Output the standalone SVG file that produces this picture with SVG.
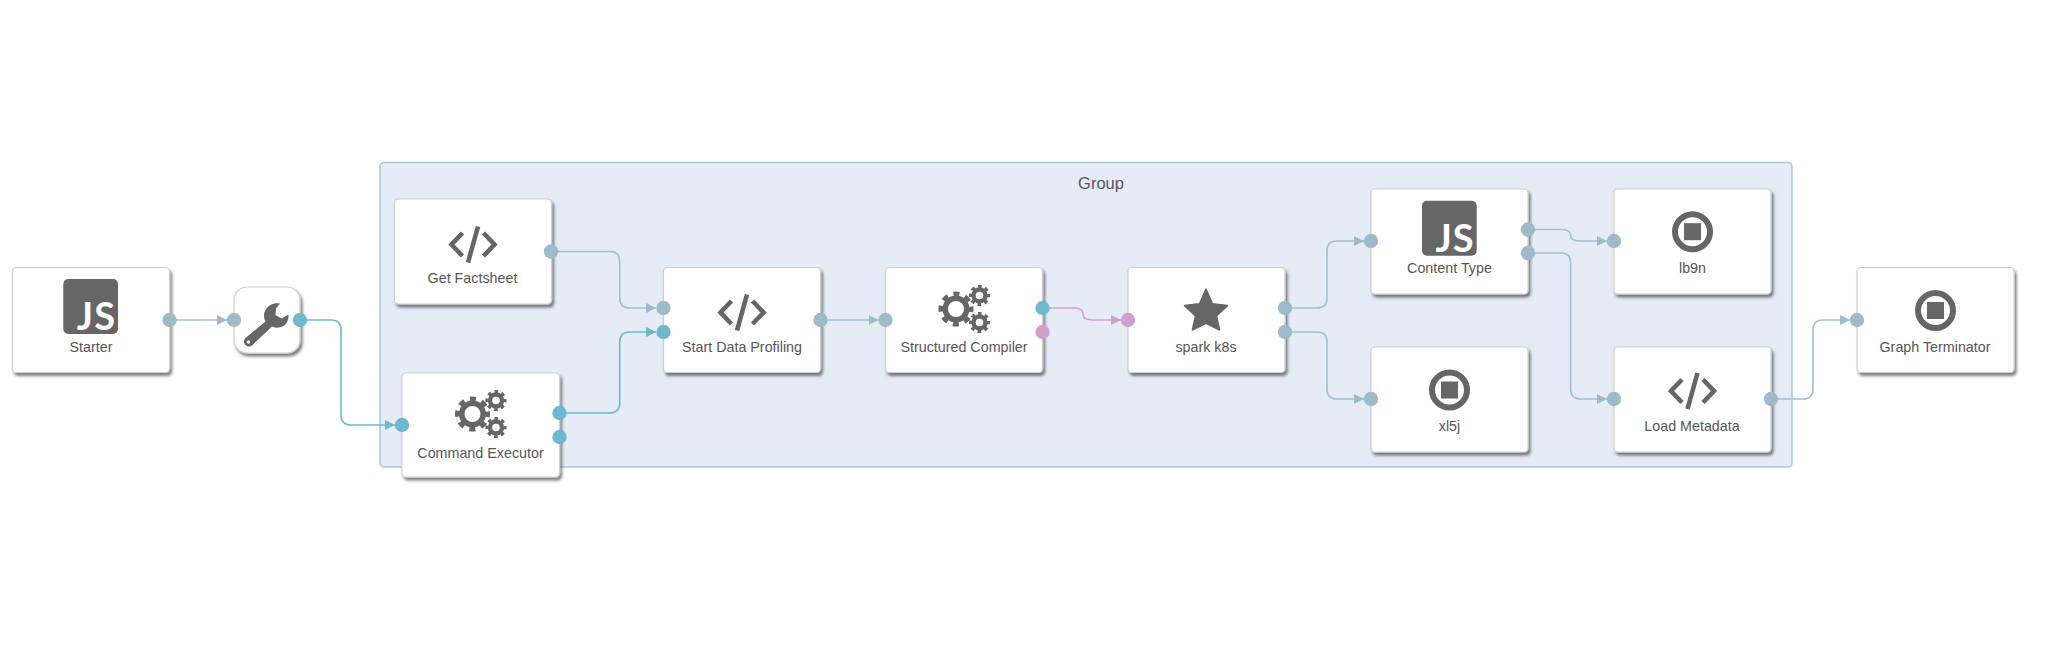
<svg xmlns="http://www.w3.org/2000/svg" width="2046" height="656" viewBox="0 0 2046 656">
<style>
text{font-family:"Liberation Sans",Arial,sans-serif;fill:#565656;text-anchor:middle;font-size:14.3px}
.group-bg{fill:#e6ecf5;stroke:#a9c8dc;stroke-width:1.5}
.box{fill:#fff;stroke:#cfcfcf;stroke-width:1.2;filter:url(#sh)}
.e{fill:none;stroke-width:1.6}
.g{stroke:#a3c0cd;marker-end:url(#ag)}
.t{stroke:#6db9cf;marker-end:url(#at)}
.p{stroke:#d3a2cc;marker-end:url(#ap)}
.pg{fill:#9dbbc8}.pt{fill:#6db9cf}.pp{fill:#d19fca}
circle.pg,circle.pt,circle.pp{r:7.2px}
.code{fill:none;stroke:#666;stroke-width:4.6}
.js{font-family:Lato,"Liberation Sans",sans-serif;font-weight:700;font-size:38px;letter-spacing:1px;fill:#fff;text-anchor:end}
</style>
<defs>
<filter id="sh" x="-10%" y="-10%" width="125%" height="125%"><feDropShadow dx="2" dy="3" stdDeviation="1.8" flood-color="#000" flood-opacity=".5"/></filter>
<marker id="ag" markerUnits="userSpaceOnUse" markerWidth="10" markerHeight="10" refX="10" refY="5" orient="auto"><path d="M0 0L10 5L0 10Z" fill="#9dbbc8"/></marker>
<marker id="at" markerUnits="userSpaceOnUse" markerWidth="10" markerHeight="10" refX="10" refY="5" orient="auto"><path d="M0 0L10 5L0 10Z" fill="#6db9cf"/></marker>
<marker id="ap" markerUnits="userSpaceOnUse" markerWidth="10" markerHeight="10" refX="10" refY="5" orient="auto"><path d="M0 0L10 5L0 10Z" fill="#d19fca"/></marker>
<g id="i-code"><path class="code" d="M-10.500 -11.500L-21.500 0L-10.500 11.500M10.500 -11.500L21.500 0L10.500 11.500M5 -18L-5 18"/></g>
<g id="i-gear"><circle r="10.750" fill="none" stroke="#666" stroke-width="5.500"/><circle r="15" fill="none" stroke="#666" stroke-width="5" stroke-dasharray="6 5.780" stroke-dashoffset="3"/></g>
<g id="i-sgear"><circle r="6" fill="none" stroke="#666" stroke-width="4.400"/><circle r="9" fill="none" stroke="#666" stroke-width="3.200" stroke-dasharray="3.600 3.470" stroke-dashoffset="1.800"/></g>
<g id="i-gears"><use href="#i-gear" x="-8" y="0"/><use href="#i-sgear" x="15.500" y="-13.500"/><use href="#i-sgear" x="15.500" y="13.500"/></g>
<g id="i-stop"><circle r="17.500" fill="none" stroke="#666" stroke-width="6"/><rect x="-8.500" y="-8.500" width="17" height="17" fill="#666"/></g>
</defs>
<g id="group-box"><rect class="group-bg" x="380" y="162.500" width="1412" height="304.500" rx="4"/><text x="1101" y="189" style="font-size:16.500px">Group</text></g>
<g id="connectors">
<path class="e g" d="M170 320H227"/>
<path class="e t" d="M300 320H331Q341 320 341 330V415Q341 425 351 425H395"/>
<path class="e g" d="M551 251.500H609.700Q619.700 251.500 619.700 261.500V298Q619.700 308 629.700 308H656"/>
<path class="e t" d="M559.500 413H609.700Q619.700 413 619.700 403V342Q619.700 332 629.700 332H656"/>
<path class="e g" d="M820.500 320H878.500"/>
<path class="e p" d="M1042.600 308H1074Q1083 308 1083 314Q1083 320 1092 320H1121"/>
<path class="e g" d="M1285 308H1317Q1327 308 1327 298V251Q1327 241 1337 241H1364"/>
<path class="e g" d="M1285 332H1317Q1327 332 1327 342V389Q1327 399 1337 399H1364"/>
<path class="e g" d="M1528 229.500H1561Q1570.600 229.500 1570.600 235.200Q1570.600 241 1580 241H1607"/>
<path class="e g" d="M1528 253H1560.600Q1570.600 253 1570.600 263V389Q1570.600 399 1580.600 399H1607"/>
<path class="e g" d="M1771 399H1803Q1813 399 1813 389V330Q1813 320 1823 320H1850"/>
</g>
<g id="node-starter"><rect class="box" x="12.500" y="267.500" width="157" height="105" rx="4"/>
<rect x="63.300" y="279" width="54.700" height="55" rx="5" fill="#666"/><text class="js" x="116" y="330">JS</text>
<text x="91" y="351.500">Starter</text><circle class="pg" cx="169.500" cy="320" r="7"/></g>
<g id="node-wrench"><rect class="box" x="234" y="287" width="66" height="66" rx="13"/>
<path fill="#666" d="M280 303.500C272 302 264.500 307 264 315.500C264 318 264.500 320 265.500 321.500L245.500 338C243.500 340 243.500 343 245.500 345C247.500 347 250.500 347 252.500 345L272 326.500C274 327.500 276 328 278 327.500C285 327 289 322 288.500 314.500L281.500 318.500L275.500 315L276 308.500Z"/><circle cx="248.500" cy="342" r="1.800" fill="#fff"/>
<circle class="pg" cx="234" cy="320" r="7"/><circle class="pt" cx="300" cy="320" r="7"/></g>
<g id="node-get-factsheet"><rect class="box" x="394.500" y="199" width="157" height="105" rx="4"/><use href="#i-code" x="473" y="244.500"/>
<text x="472.500" y="283">Get Factsheet</text><circle class="pg" cx="551" cy="251.500" r="7"/></g>
<g id="node-command-executor"><rect class="box" x="402" y="373" width="157.500" height="104" rx="4"/><use href="#i-gears" x="480.500" y="414"/>
<text x="480.500" y="457.500">Command Executor</text><circle class="pt" cx="402" cy="425" r="7"/><circle class="pt" cx="559.500" cy="413" r="7"/><circle class="pt" cx="559.500" cy="437" r="7"/></g>
<g id="node-start-data-profiling"><rect class="box" x="663.500" y="267.500" width="157" height="105" rx="4"/><use href="#i-code" x="742" y="312.500"/>
<text x="742" y="351.500">Start Data Profiling</text><circle class="pg" cx="663.500" cy="308" r="7"/><circle class="pt" cx="663.500" cy="332" r="7"/><circle class="pg" cx="820.500" cy="320" r="7"/></g>
<g id="node-structured-compiler"><rect class="box" x="885.500" y="267.500" width="157" height="105" rx="4"/><use href="#i-gears" x="964" y="309"/>
<text x="964" y="351.500">Structured Compiler</text><circle class="pg" cx="885.500" cy="320" r="7"/><circle class="pt" cx="1042.500" cy="308" r="7"/><circle class="pp" cx="1042.500" cy="332" r="7"/></g>
<g id="node-spark-k8s"><rect class="box" x="1128" y="267.500" width="157" height="105" rx="4"/>
<path fill="#666" stroke="#666" stroke-width="1.500" stroke-linejoin="round" d="M1206 289L1212.500 303.800L1227.500 305.600L1216.500 316L1219.600 330L1206 323.300L1192.400 330L1195.500 316L1184.500 305.600L1199.500 303.800Z"/>
<text x="1206" y="351.500">spark k8s</text><circle class="pp" cx="1128" cy="320" r="7"/><circle class="pg" cx="1285" cy="308" r="7"/><circle class="pg" cx="1285" cy="332" r="7"/></g>
<g id="node-content-type"><rect class="box" x="1371" y="189" width="157" height="105" rx="4"/>
<rect x="1422" y="200.700" width="54.700" height="55" rx="5" fill="#666"/><text class="js" x="1474.700" y="251.700">JS</text>
<text x="1449.500" y="273">Content Type</text><circle class="pg" cx="1371" cy="241" r="7"/><circle class="pg" cx="1528" cy="229.500" r="7"/><circle class="pg" cx="1528" cy="253" r="7"/></g>
<g id="node-lb9n"><rect class="box" x="1614" y="189" width="157" height="105" rx="4"/><use href="#i-stop" x="1692.500" y="231.700"/>
<text x="1692.500" y="273">lb9n</text><circle class="pg" cx="1614" cy="241" r="7"/></g>
<g id="node-xl5j"><rect class="box" x="1371" y="347" width="157" height="105" rx="4"/><use href="#i-stop" x="1449.500" y="390"/>
<text x="1449.500" y="431">xl5j</text><circle class="pg" cx="1371" cy="399" r="7"/></g>
<g id="node-load-metadata"><rect class="box" x="1614" y="347" width="157" height="105" rx="4"/><use href="#i-code" x="1692.500" y="391"/>
<text x="1692" y="431">Load Metadata</text><circle class="pg" cx="1614" cy="399" r="7"/><circle class="pg" cx="1771" cy="399" r="7"/></g>
<g id="node-graph-terminator"><rect class="box" x="1857" y="267.500" width="157" height="105" rx="4"/><use href="#i-stop" x="1935.500" y="310.500"/>
<text x="1935" y="351.500">Graph Terminator</text><circle class="pg" cx="1857" cy="320" r="7"/></g>
</svg>
